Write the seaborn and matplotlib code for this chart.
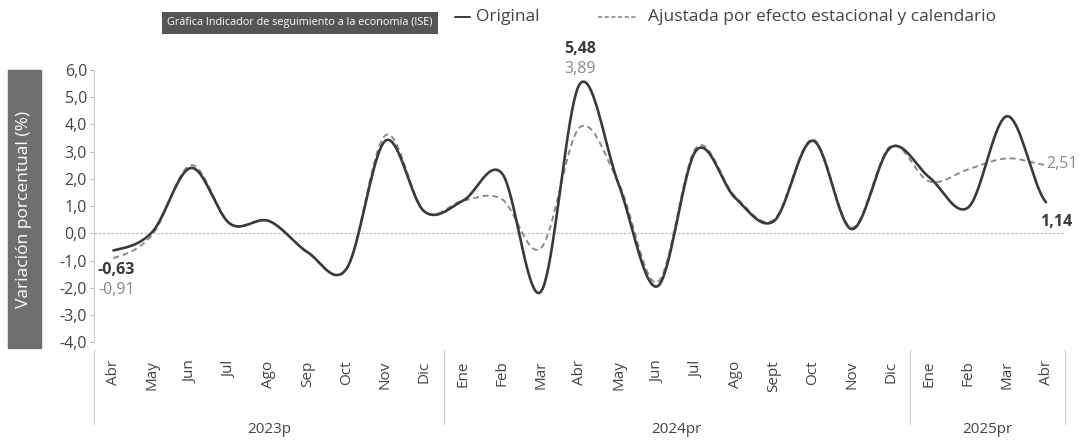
import numpy as np
import pandas as pd
import matplotlib
matplotlib.use("Agg")
import matplotlib.pyplot as plt
import seaborn as sns
from matplotlib.patches import Rectangle

months = ["Abr", "May", "Jun", "Jul", "Ago", "Sep", "Oct", "Nov", "Dic",
          "Ene", "Feb", "Mar", "Abr", "May", "Jun", "Jul", "Ago", "Sept",
          "Oct", "Nov", "Dic",
          "Ene", "Feb", "Mar", "Abr"]
years = ["2023p", "2024pr", "2025pr"]
year_sizes = [9, 12, 4]

original = [-0.63, 0.05, 2.40, 0.35, 0.45, -0.70, -1.30, 3.40, 0.80,
            1.20, 2.20, -2.15, 5.48, 1.80, -1.95, 3.05, 1.30, 0.45,
            3.40, 0.15, 3.15,
            2.05, 0.95, 4.30, 1.14]
ajustada = [-0.91, -0.05, 2.50, 0.35, 0.45, -0.70, -1.30, 3.60, 0.80,
            1.20, 1.25, -0.55, 3.89, 1.85, -1.80, 3.15, 1.35, 0.50,
            3.45, 0.20, 3.20,
            1.90, 2.35, 2.75, 2.51]

DARK = "#3a3a3a"
GRAY = "#8a8a8a"


def smooth(values, steps=20):
    # cardinal (Catmull-Rom) curve through the points, only for drawing
    p = np.asarray(values, dtype=float)
    n = len(p)
    xs, ys = [], []
    for i in range(n - 1):
        p0 = p[max(i - 1, 0)]
        p1 = p[i]
        p2 = p[i + 1]
        p3 = p[min(i + 2, n - 1)]
        t = np.linspace(0, 1, steps, endpoint=False)
        y = 0.5 * ((2 * p1) + (-p0 + p2) * t
                   + (2 * p0 - 5 * p1 + 4 * p2 - p3) * t ** 2
                   + (-p0 + 3 * p1 - 3 * p2 + p3) * t ** 3)
        xs.append(i + t)
        ys.append(y)
    xs.append([n - 1])
    ys.append([p[-1]])
    return np.concatenate(xs), np.concatenate(ys)


sns.set_style("white")
plt.rcParams["font.family"] = ["Open Sans", "DejaVu Sans"]

fig = plt.figure(figsize=(10.83, 4.45), dpi=100)
ax = fig.add_axes([0.0868, 0.231, 0.897, 0.612])

x_o, y_o = smooth(original)
x_a, y_a = smooth(ajustada)

sns.lineplot(x=x_a, y=y_a, ax=ax, color=GRAY, linewidth=1.4,
             linestyle=(0, (3, 2)), estimator=None, sort=False)
sns.lineplot(x=x_o, y=y_o, ax=ax, color=DARK, linewidth=1.9,
             estimator=None, sort=False)

ax.axhline(0, color="#c8c8c8", linewidth=1, linestyle=(0, (2, 1)), zorder=0)

ax.set_xlim(-0.5, len(months) - 0.5)
ax.set_ylim(-4, 6)
yticks = np.arange(-4, 7, 1)
ax.set_yticks(yticks)
ax.set_yticklabels([f"{v:.1f}".replace(".", ",") for v in yticks],
                   fontsize=11.5, color="#444444")
ax.set_xticks(range(len(months)))
ax.set_xticklabels(months, rotation=90, fontsize=11, color="#444444")
ax.tick_params(axis="x", length=0, pad=13)
ax.tick_params(axis="y", length=3, width=0.8, color="#bbbbbb", pad=2, left=True)

for side in ["top", "right", "bottom"]:
    ax.spines[side].set_visible(False)
ax.spines["left"].set_color("#cccccc")
ax.spines["left"].set_linewidth(0.8)
ax.set_xlabel("")
ax.set_ylabel("")

# year groups under the month labels
trans = ax.get_xaxis_transform()
start = 0
bounds = [-0.5]
for name, size in zip(years, year_sizes):
    center = start + (size - 1) / 2
    ax.text(center, -0.32, name, transform=trans, ha="center", va="center",
            fontsize=11, color="#444444")
    start += size
    bounds.append(start - 0.5)
for b in bounds:
    ax.plot([b, b], [-0.03, -0.3], transform=trans, color="#cccccc",
            linewidth=0.8, clip_on=False)

# data labels at the ends and at the peak
ax.text(-0.4, -1.35, "-0,63", ha="left", va="center", fontsize=11.5,
        fontweight="bold", color=DARK)
ax.text(-0.4, -2.1, "-0,91", ha="left", va="center", fontsize=11.5,
        color=GRAY)
ax.text(12, 6.75, "5,48", ha="center", va="center", fontsize=11.5,
        fontweight="bold", color=DARK, clip_on=False)
ax.text(12, 6.02, "3,89", ha="center", va="center", fontsize=11.5,
        color=GRAY, clip_on=False)
ax.text(24.0, 2.55, "2,51", ha="left", va="center", fontsize=11.5,
        color=GRAY, clip_on=False)
ax.text(23.85, 0.4, "1,14", ha="left", va="center", fontsize=11.5,
        fontweight="bold", color=DARK, clip_on=False)

# y axis title on a dark band
fig.patches.append(Rectangle((8 / 1083, 1 - 348 / 445), 33 / 1083, 278 / 445,
                             transform=fig.transFigure, color="#6f6f6f",
                             zorder=0))
fig.text(24.5 / 1083, 1 - 209 / 445, "Variación porcentual (%)", rotation=90,
         ha="center", va="center", fontsize=12.5, color="white")

# title box and legend on top
fig.text(300 / 1083, 1 - 23 / 445,
         "Gráfica Indicador de seguimiento a la economía (ISE)",
         ha="center", va="center", fontsize=7.8, color="white",
         bbox=dict(boxstyle="square,pad=0.5", fc="#555555", ec="none"))
fig.lines.append(plt.Line2D([455 / 1083, 470 / 1083], [1 - 17 / 445] * 2,
                            transform=fig.transFigure, color=DARK,
                            linewidth=1.4))
fig.text(476 / 1083, 1 - 17 / 445, "Original", ha="left", va="center",
         fontsize=12.5, color="#444444")
fig.lines.append(plt.Line2D([598 / 1083, 636 / 1083], [1 - 17 / 445] * 2,
                            transform=fig.transFigure, color=GRAY,
                            linewidth=1.2, linestyle=(0, (2.5, 1.5))))
fig.text(648 / 1083, 1 - 17 / 445,
         "Ajustada por efecto estacional y calendario",
         ha="left", va="center", fontsize=12.5, color="#444444")

fig.savefig("out.png", dpi=100)
